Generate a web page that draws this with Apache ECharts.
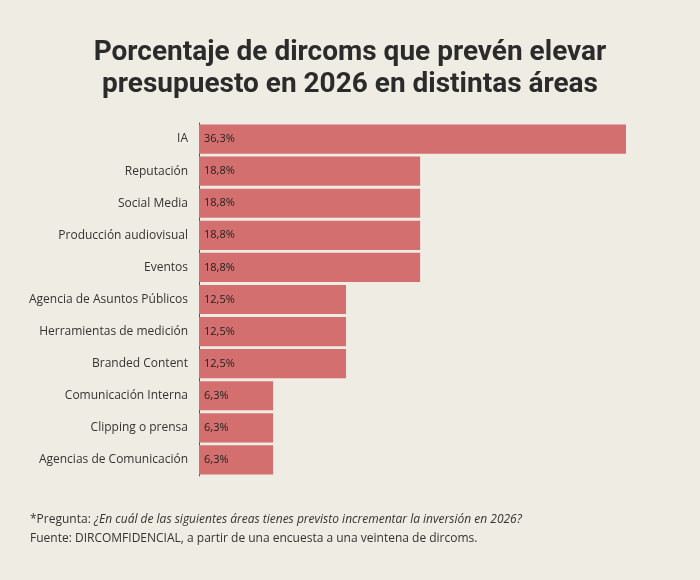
<!DOCTYPE html><html><head><meta charset="utf-8">
<script src="https://cdn.jsdelivr.net/npm/echarts@6/dist/echarts.min.js"></script>
<style>html,body{margin:0;background:#efede3}#c{width:700px;height:580px}</style></head><body><div id="c"></div>
<script>
const categories=["IA","Reputación","Social Media","Producción audiovisual","Eventos","Agencia de Asuntos Públicos","Herramientas de medición","Branded Content","Comunicación Interna","Clipping o prensa","Agencias de Comunicación"];
const values=[36.3,18.8,18.8,18.8,18.8,12.5,12.5,12.5,6.3,6.3,6.3];
const F="'Open Sans', sans-serif";
const chart=echarts.init(document.getElementById('c'));
chart.setOption({
backgroundColor:'#efede3',
title:{text:'Porcentaje de dircoms que prevén elevar\npresupuesto en 2026 en distintas áreas',left:'center',top:32,textStyle:{fontFamily:"'Liberation Sans Narrow','Roboto',sans-serif",fontSize:28,fontWeight:'bold',color:'#2b2b2b',lineHeight:32}},
grid:{left:199,right:74,top:123,bottom:104},
xAxis:{type:'value',min:0,max:36.3,show:false},
yAxis:{type:'category',data:categories,inverse:true,axisLine:{show:true,lineStyle:{color:'#555'}},axisTick:{show:false},
 axisLabel:{fontFamily:F,fontSize:12,color:'#333',margin:11}},
series:[{type:'bar',data:values,barCategoryGap:'9%',itemStyle:{color:'#d46f6f'},
 label:{show:true,position:'insideLeft',offset:[0,0],formatter:p=>p.value.toFixed(1).replace('.',',')+'%',fontFamily:F,fontSize:11,color:'#222'}}],
graphic:[
{type:'text',left:30,top:514,style:{rich:{a:{fontFamily:F,fontSize:12,fill:'#333'},b:{fontFamily:F,fontSize:12,fontStyle:'italic',fill:'#333'}},text:'{a|*Pregunta: }{b|¿En cuál de las siguientes áreas tienes previsto incrementar la inversión en 2026?}'}},
{type:'text',left:30,top:533,style:{text:'Fuente: DIRCOMFIDENCIAL, a partir de una encuesta a una veintena de dircoms.',fontFamily:F,fontSize:12,fill:'#333'}}
]});
</script></body></html>
